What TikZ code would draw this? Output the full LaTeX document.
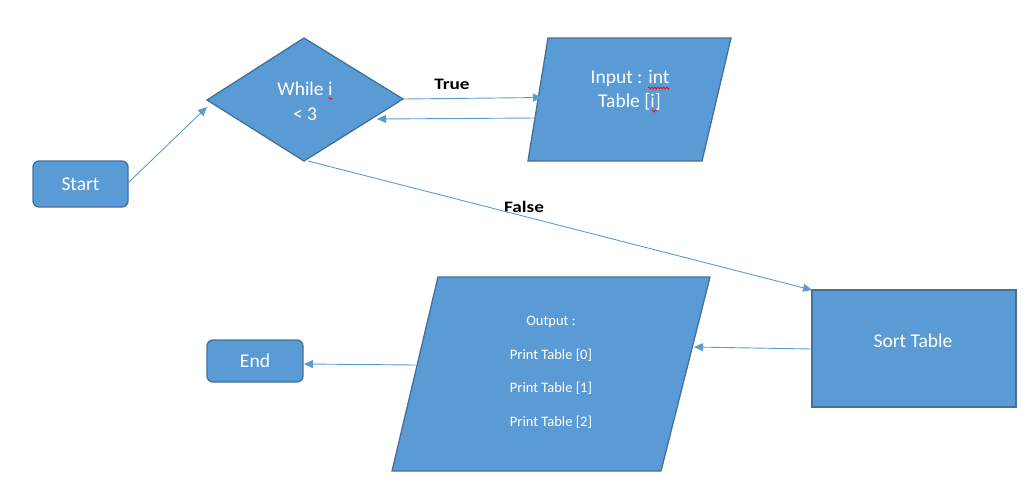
\documentclass[tikz,border=0pt]{standalone}
\usepackage{fontspec}
\setmainfont{Carlito}
\usetikzlibrary{arrows.meta,decorations.pathmorphing}
\definecolor{boxfill}{HTML}{5B9BD5}
\definecolor{boxedge}{HTML}{41719C}
\definecolor{linecol}{HTML}{5B9BD5}
\tikzset{
  shapebox/.style={fill=boxfill,draw=boxedge,line width=1.3pt,line join=miter},
  roundbox/.style={fill=boxfill,draw=boxedge,line width=1.3pt,rounded corners=6pt,inner sep=0pt},
  lbl/.style={text=white,font=\fontsize{19.5}{22}\selectfont,inner sep=0pt},
  smalllbl/.style={text=white,font=\fontsize{14.5}{17}\selectfont,inner sep=0pt},
  edgelbl/.style={text=black,font=\bfseries\fontsize{16}{19}\selectfont,inner sep=0pt},
  conn/.style={draw=linecol,line width=0.9pt,-{Triangle[length=9pt,width=8pt]}},
  squiggle/.style={draw=red,line width=0.7pt,decorate,decoration={zigzag,amplitude=1pt,segment length=3pt}}
}
\begin{document}
\begin{tikzpicture}[x=1pt,y=-1pt]
\useasboundingbox (0,0) rectangle (1036,493);
% shapes
\node[roundbox,minimum width=95pt,minimum height=46pt] (start) at (80.5,184) {};
\node[lbl] at (start) {Start};
\node[roundbox,minimum width=96pt,minimum height=42pt] (endn) at (255,361) {};
\node[lbl] at (endn) {End};
\draw[shapebox] (207,100) -- (304,38) -- (403,99) -- (304,161) -- cycle;
\draw[shapebox] (548,38) -- (731,38) -- (702,161) -- (528,161) -- cycle;
\draw[shapebox] (438,277) -- (710,277) -- (661,471) -- (392,471) -- cycle;
\draw[shapebox] (812,290) rectangle (1016,407);
% texts
\node[lbl] (w1) at (305,89) {While i};
\node[lbl] (w2) at (305,114) {< 3};
\node[lbl] (in1) at (630,78) {Input : int};
\node[lbl] (in2) at (629.5,102) {Table [i]};
\node[smalllbl] (o0) at (551,322) {Output :};
\node[smalllbl] (o1) at (551,355) {Print Table [0]};
\node[smalllbl] (o2) at (551,388) {Print Table [1]};
\node[smalllbl] (o3) at (551,422) {Print Table [2]};
\node[lbl] (sort) at (913,341) {Sort Table};
\node[edgelbl] (tl) at (452,84) {\scalebox{1.2}[1]{True}};
\node[edgelbl] (fl) at (524,207) {\scalebox{1.2}[1]{False}};
% spell-check marks
\draw[squiggle] (648,88) -- (669,88);
\draw[squiggle] (328.5,98.5) -- (332.5,98.5);
\draw[squiggle] (652,111) -- (657,111);
% connector points
\coordinate (s1) at (128,183);
\coordinate (d1) at (207,107);
\coordinate (d2) at (403,99);
\coordinate (i1) at (542,97.5);
\coordinate (i2) at (537,118);
\coordinate (d3) at (377,119);
\coordinate (d4) at (308,161);
\coordinate (t1) at (812,290);
\coordinate (t2) at (812,349);
\coordinate (p1) at (694,347);
\coordinate (p2) at (416,365);
\coordinate (e1) at (304,364);
\draw[conn] (s1) -- (d1);
\draw[conn] (d2) -- (i1);
\draw[conn] (i2) -- (d3);
\draw[conn] (d4) -- (t1);
\draw[conn] (t2) -- (p1);
\draw[conn] (p2) -- (e1);
\end{tikzpicture}
\end{document}
